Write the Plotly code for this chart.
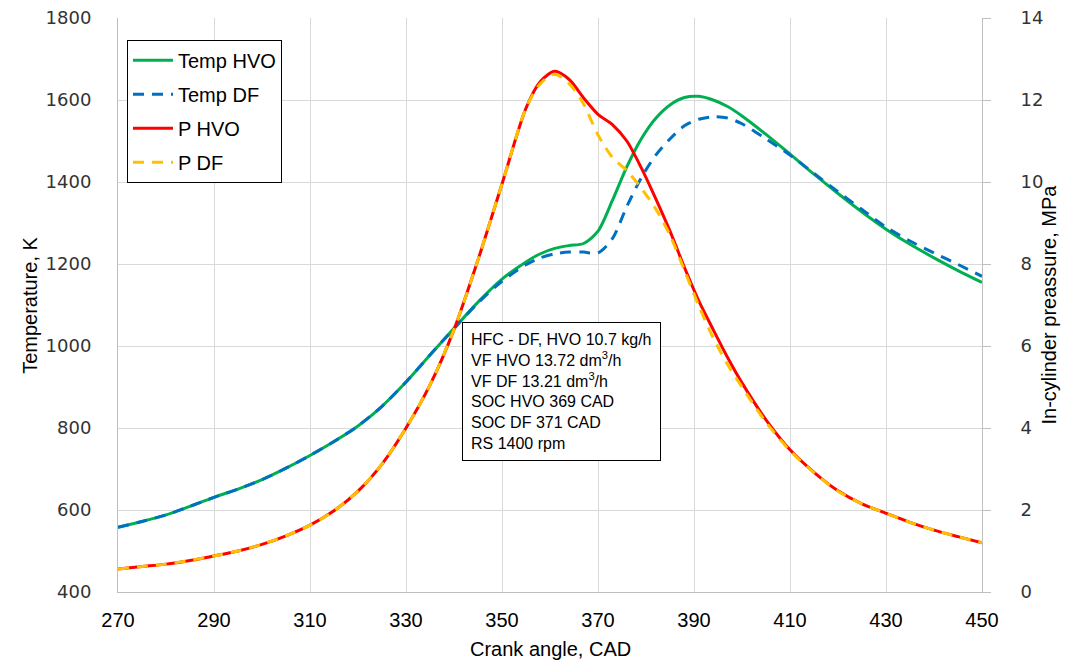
import plotly.graph_objects as go

# crank angle, CAD
cad = [270, 275, 280, 285, 290, 295, 300, 305, 310, 315, 320, 325, 330, 335, 340, 345,
       350, 355, 358, 361, 364, 367, 370, 373, 376, 379, 382, 385, 388, 391, 394, 397,
       400, 405, 410, 415, 420, 425, 430, 435, 440, 445, 450]

# temperature, K
temp_hvo = [558, 572, 588, 609, 631, 651, 674, 702, 733, 767, 805, 853, 912, 978, 1043, 1107,
            1163, 1205, 1225, 1238, 1245, 1250, 1280, 1355, 1437, 1505, 1555, 1588, 1606, 1609, 1600, 1584,
            1561, 1516, 1468, 1419, 1372, 1327, 1285, 1248, 1215, 1184, 1155]
temp_df = [558, 572, 588, 609, 631, 651, 674, 702, 733, 767, 805, 853, 912, 978, 1043, 1105,
           1158, 1198, 1215, 1225, 1229, 1229, 1227, 1262, 1340, 1410, 1465, 1505, 1537, 1553, 1559, 1556,
           1542, 1505, 1466, 1421, 1376, 1333, 1290, 1256, 1227, 1199, 1170]

# in-cylinder pressure, MPa
p_hvo = [0.56, 0.62, 0.68, 0.77, 0.88, 1.0, 1.16, 1.37, 1.63, 1.98, 2.46, 3.12, 4.0, 5.05, 6.4, 8.1,
         9.95, 11.8, 12.45, 12.7, 12.5, 12.05, 11.65, 11.4, 11.0, 10.35, 9.6, 8.8, 7.92, 7.1, 6.4, 5.72,
         5.1, 4.2, 3.47, 2.92, 2.47, 2.15, 1.92, 1.7, 1.51, 1.35, 1.2]
p_df = [0.56, 0.62, 0.68, 0.77, 0.88, 1.0, 1.16, 1.37, 1.63, 1.98, 2.46, 3.12, 4.0, 5.05, 6.4, 8.1,
        9.95, 11.8, 12.4, 12.63, 12.4, 11.9, 11.15, 10.6, 10.28, 9.85, 9.35, 8.7, 7.85, 6.98, 6.2, 5.55,
        5.0, 4.14, 3.45, 2.91, 2.46, 2.15, 1.92, 1.7, 1.51, 1.35, 1.2]

info = ["HFC - DF, HVO 10.7 kg/h", "VF HVO 13.72 dm<sup>3</sup>/h", "VF DF 13.21 dm<sup>3</sup>/h",
        "SOC HVO 369 CAD", "SOC DF 371 CAD", "RS 1400 rpm"]

dash = "11px,8px"
fig = go.Figure()
fig.add_trace(go.Scatter(x=cad, y=temp_hvo, name="Temp HVO", legendgroup="a", mode="lines",
                         line=dict(color="#00B050", width=3, shape="spline", smoothing=0.8)))
fig.add_trace(go.Scatter(x=cad, y=temp_df, name="Temp DF", legendgroup="b", mode="lines",
                         line=dict(color="#0070C0", width=3, dash=dash, shape="spline", smoothing=0.8)))
fig.add_trace(go.Scatter(x=cad, y=p_hvo, name="P HVO", legendgroup="c", mode="lines", yaxis="y2",
                         line=dict(color="#FF0000", width=3, shape="spline", smoothing=0.8)))
fig.add_trace(go.Scatter(x=cad, y=p_df, name="P DF", legendgroup="d", mode="lines", yaxis="y2",
                         line=dict(color="#FFC000", width=3, dash=dash, shape="spline", smoothing=0.8)))

tickfont = dict(family="DejaVu Sans", size=18, color="#333333")
titlefont = dict(family="Liberation Sans", size=20, color="#000000")

# page has an 8px body margin, so the figure is a little smaller than the window
fig.update_layout(
    width=1060, height=652,
    margin=dict(l=110, r=86, t=10, b=68, autoexpand=False),
    plot_bgcolor="white", paper_bgcolor="white",
    showlegend=True,
    legend=dict(x=0.0104, y=0.962, xanchor="left", yanchor="top",
                bgcolor="white", bordercolor="black", borderwidth=1,
                font=dict(family="Liberation Sans", size=20, color="#000000"),
                tracegroupgap=5, itemwidth=40),
    xaxis=dict(range=[270, 450], dtick=20, tick0=270, showgrid=True, gridcolor="#D9D9D9",
               showline=True, linecolor="#BFBFBF", zeroline=False, automargin=False,
               tickfont=dict(family="Liberation Sans Narrow, Liberation Sans", size=20, color="#000000"),
               ticklabelstandoff=10, ticklabeloverflow="allow"),
    yaxis=dict(range=[400, 1800], dtick=200, showgrid=True, gridcolor="#D9D9D9",
               showline=True, linecolor="#BFBFBF", zeroline=False, automargin=False,
               tickfont=tickfont, ticklabelstandoff=22, ticklabeloverflow="allow"),
    yaxis2=dict(range=[0, 14], dtick=2, overlaying="y", side="right", showgrid=False,
                showline=True, linecolor="#BFBFBF", zeroline=False, automargin=False,
                ticks="outside", ticklen=8, tickcolor="#BFBFBF",
                tickfont=tickfont, ticklabelstandoff=26, ticklabeloverflow="allow"),
)

# axis titles
fig.add_annotation(xref="paper", yref="paper", x=0.5, y=-0.1, xanchor="center", yanchor="middle",
                   text="Crank angle, CAD", showarrow=False, font=titlefont)
fig.add_annotation(xref="paper", yref="paper", x=-0.102, y=0.5, xanchor="center", yanchor="middle",
                   text="Temperature, K", textangle=-90, showarrow=False, font=titlefont)
fig.add_annotation(xref="paper", yref="paper", x=1.077, y=0.5, xanchor="center", yanchor="middle",
                   text="In-cylinder preassure, MPa", textangle=-90, showarrow=False, font=titlefont)

fig.add_annotation(xref="paper", yref="paper", x=0.398, y=0.4704, xanchor="left", yanchor="top",
                   text="<br>".join(info), showarrow=False, align="left",
                   font=dict(family="Liberation Sans", size=16, color="#000000"),
                   bgcolor="white", bordercolor="black", borderwidth=1, borderpad=8)

fig.write_html("out.html")
